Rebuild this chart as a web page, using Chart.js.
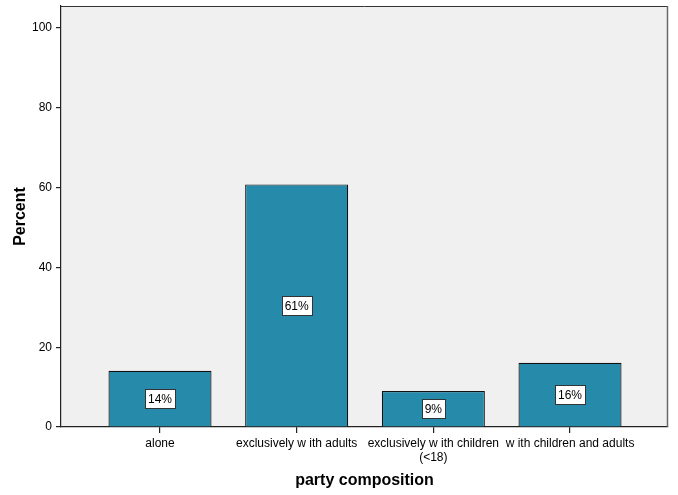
<!DOCTYPE html>
<html>
<head>
<meta charset="utf-8">
<script src="https://cdn.jsdelivr.net/npm/chart.js@4/dist/chart.umd.min.js"></script>
<style>
html,body{margin:0;padding:0;background:#fff;}
#wrap{width:678px;height:495px;}
</style>
</head>
<body>
<div id="wrap"><canvas id="c" width="678" height="495"></canvas></div>
<script>
const categories = ["alone", "exclusively w ith adults", ["exclusively w ith children", "(<18)"], "w ith children and adults"];
const percentValues = [14.1, 60.8, 9.0, 16.1];
const percentLabels = ["14%", "61%", "9%", "16%"];
const yTicks = [0, 20, 40, 60, 80, 100];

const FONT = "'Liberation Sans', Arial, sans-serif";

const framePlugin = {
  id: 'frame',
  beforeDraw(chart) {
    const {ctx, chartArea: a} = chart;
    ctx.save();
    ctx.fillStyle = '#F0F0F0';
    ctx.fillRect(a.left, a.top, a.right - a.left, a.bottom - a.top);
    ctx.restore();
  },
  afterDraw(chart) {
    const {ctx, chartArea: a} = chart;
    ctx.save();
    ctx.lineWidth = 1;
    ctx.strokeStyle = '#333';
    ctx.beginPath();
    ctx.moveTo(a.left, a.top + 0.5);
    ctx.lineTo(a.right, a.top + 0.5);
    ctx.stroke();
    ctx.strokeStyle = '#6a6a6a';
    ctx.lineWidth = 1.5;
    ctx.beginPath();
    ctx.moveTo(a.right - 0.5, a.top);
    ctx.lineTo(a.right - 0.5, a.bottom);
    ctx.stroke();
    // data labels
    const meta = chart.getDatasetMeta(0);
    ctx.font = '12px ' + FONT;
    ctx.textAlign = 'center';
    ctx.textBaseline = 'middle';
    ctx.lineWidth = 1;
    meta.data.forEach((bar, i) => {
      const txt = percentLabels[i];
      const cx = bar.x;
      const cy = (bar.y + bar.base) / 2;
      const w = Math.round(ctx.measureText(txt).width + 6);
      const h = 19;
      const x0 = Math.round(cx - w / 2) + 0.5, y0 = Math.round(cy - h / 2) + 0.5;
      ctx.fillStyle = '#fff';
      ctx.fillRect(x0, y0, w, h);
      ctx.strokeStyle = '#333';
      ctx.strokeRect(x0, y0, w, h);
      ctx.fillStyle = '#000';
      ctx.fillText(txt, cx, cy + 1);
    });
    ctx.restore();
  }
};

new Chart(document.getElementById('c'), {
  type: 'bar',
  data: {
    datasets: [{
      data: percentValues.map((v, i) => ({x: i, y: v})),
      backgroundColor: '#268AAA',
      borderColor: '#111',
      borderWidth: 1.2,
      borderSkipped: 'bottom',
      barPercentage: 0.754,
      categoryPercentage: 1
    }]
  },
  options: {
    responsive: false,
    animation: false,
    events: [],
    layout: {padding: {top: 6, right: 10, left: 0, bottom: 0}},
    plugins: {legend: {display: false}, tooltip: {enabled: false}},
    scales: {
      x: {
        type: 'linear',
        offset: false,
        min: -0.7244,
        max: 3.717,
        afterBuildTicks(scale) { scale.ticks = [0, 1, 2, 3].map(v => ({value: v})); },
        afterFit(scale) { scale.height = 68; scale.paddingLeft = 0; scale.paddingRight = 0; },
        grid: {offset: false, drawOnChartArea: false, drawTicks: true, tickLength: 6, color: '#222', lineWidth: 1.2},
        border: {display: true, color: '#222', width: 1.2},
        ticks: {
          color: '#000',
          font: {family: FONT, size: 12},
          padding: 3,
          maxRotation: 0,
          autoSkip: false,
          callback: (v) => categories[v]
        },
        title: {display: true, text: 'party composition', color: '#000',
          font: {family: FONT, size: 16, weight: 'bold'}, padding: {top: 0, bottom: 5}}
      },
      y: {
        min: 0,
        max: 105.5,
        afterBuildTicks(scale) { scale.ticks = yTicks.map(v => ({value: v})); },
        afterFit(scale) { scale.width = 61; scale.paddingTop = 0; scale.paddingBottom = 0; },
        grid: {drawOnChartArea: false, drawTicks: true, tickLength: 5, color: '#222', lineWidth: 1.2},
        border: {display: true, color: '#222', width: 1.2},
        ticks: {color: '#000', font: {family: FONT, size: 12}, padding: 4},
        title: {display: true, text: 'Percent', color: '#000',
          font: {family: FONT, size: 16, weight: 'bold'}, padding: {top: 11, bottom: 0}}
      }
    }
  },
  plugins: [framePlugin]
});
</script>
</body>
</html>
